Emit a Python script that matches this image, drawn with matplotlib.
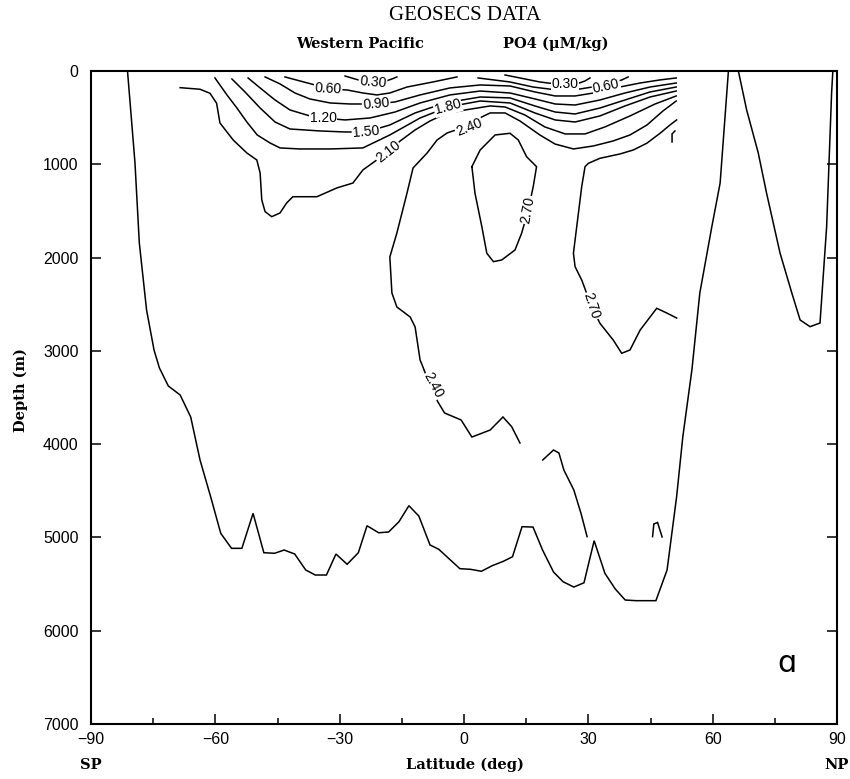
import matplotlib
matplotlib.use("Agg")
import matplotlib.pyplot as plt

# ---------------------------------------------------------------------------
# contour traces read off the GEOSECS PO4 section (lat in deg, depth in m)
# ---------------------------------------------------------------------------
deep_lat = [-81.2, -79.4, -78.35, -76.6, -74.8, -73.5, -71.35, -68.5, -65.95, -63.7,
            -61.1, -58.7, -56.1, -53.6, -50.9, -48.3, -45.7, -43.4, -40.85, -38.2,
            -35.9, -33.2, -30.9, -28.2, -25.5, -23.4, -20.6, -18.2, -15.7, -13.3,
            -10.9, -8.2, -6.1, -3.55, -1.0, 1.6, 4.2, 6.8, 9.5, 11.7,
            14.0, 16.65, 18.95, 21.6, 23.9, 26.5, 28.95, 31.4, 34.0, 36.5,
            38.9, 41.5, 46.3, 49.0, 51.3, 52.8, 55.0, 56.9, 59.8, 61.8, 63.8]
deep_dep = [0, 983, 1844, 2562, 2991, 3184, 3377, 3473, 3709, 4170,
            4570, 4956, 5117, 5117, 4742, 5164, 5170, 5135, 5178, 5349,
            5403, 5403, 5178, 5288, 5164, 4875, 4950, 4942, 4832, 4660,
            4771, 5081, 5127, 5231, 5335, 5342, 5363, 5303, 5256, 5207,
            4885, 4889, 5135, 5371, 5475, 5532, 5486, 5035, 5385, 5553,
            5671, 5678, 5678, 5349, 4564, 3920, 3200, 2380, 1669, 1201, 0]

np_lat = [66.2, 68.2, 71.0, 73.0, 76.25, 79.1, 81.1, 83.5, 85.9, 87.5, 88.7, 89.0]
np_dep = [0, 418, 879, 1308, 1951, 2380, 2669, 2741, 2702, 1669, 236, 0]

c030a_lat = [-28.7, -26.3, -24.6, -22.0, -19.1, -17.4, -16.2]
c030a_dep = [54, 86, 107, 118, 112, 86, 64]
c030b_lat = [9.9, 13.5, 18.3, 21.2, 24.4, 27.5, 29.2, 30.4]
c030b_dep = [43, 75, 118, 134, 139, 134, 107, 75]

c060a_lat = [-43.2, -39.6, -35.95, -32.3, -28.2, -24.4, -21.0, -17.9, -13.75, -7.5, -1.7]
c060a_dep = [64, 107, 150, 193, 204, 236, 257, 236, 172, 118, 64]
c060b_lat = [3.4, 11.1, 16.65, 22.4, 28.0, 34.0, 38.1, 39.6]
c060b_dep = [75, 118, 172, 204, 193, 150, 96, 64]

c090_lat = [-48.0, -44.4, -40.8, -37.2, -32.3, -27.5, -21.2, -16.65, -10.6, -3.4,
            3.9, 11.1, 17.1, 22.0, 26.8, 32.8, 37.6, 42.5, 47.3, 51.2]
c090_dep = [64, 139, 236, 300, 343, 354, 354, 332, 257, 182,
            150, 161, 225, 268, 268, 225, 172, 129, 96, 75]

c120_lat = [-52.1, -49.2, -45.6, -42.0, -37.2, -34.0, -28.7, -22.7, -16.65, -10.6,
            -3.4, 3.9, 11.1, 17.1, 22.0, 26.8, 32.8, 38.85, 44.9, 51.2]
c120_dep = [75, 182, 311, 418, 482, 504, 525, 504, 440, 343,
            257, 215, 236, 300, 354, 365, 311, 236, 172, 129]

c150_lat = [-56.0, -52.85, -49.2, -45.6, -42.0, -34.75, -28.7, -23.65, -17.9, -11.8,
            -4.6, 3.9, 11.1, 17.1, 22.0, 26.8, 32.8, 38.85, 44.9, 51.2]
c150_dep = [86, 225, 397, 547, 622, 643, 654, 654, 579, 450,
            343, 279, 289, 375, 440, 461, 397, 311, 225, 172]

c180_lat = [-60.1, -57.2, -54.8, -52.4, -49.9, -46.8, -44.4, -39.6, -32.3, -24.4,
            -17.9, -10.6, -3.9, 3.9, 11.1, 17.1, 22.0, 26.8, 32.8, 38.85, 44.9, 51.2]
c180_dep = [75, 257, 397, 547, 686, 772, 825, 836, 836, 825,
            686, 504, 386, 322, 343, 450, 525, 547, 482, 375, 279, 215]

c210_lat = [-68.5, -63.7, -61.3, -59.7, -58.9, -55.7, -52.4, -50.0, -49.2, -48.8,
            -48.0, -46.4, -44.4, -42.8, -41.3, -35.5, -30.7, -26.8, -24.4, -21.05,
            -18.3, -15.4, -11.8, -8.2, -4.6, 0.3, 6.3, 9.9, 14.7, 19.5,
            24.4, 29.2, 34.0, 40.05, 46.1, 51.2]
c210_dep = [179, 196, 239, 346, 557, 740, 879, 954, 1093, 1383,
            1508, 1562, 1522, 1415, 1348, 1348, 1254, 1201, 1061, 954,
            868, 750, 632, 536, 461, 418, 375, 386, 472, 600,
            675, 675, 600, 482, 354, 268]

c240_lat = [13.5, 11.5, 9.4, 6.3, 1.9, -0.7, -4.7, -6.3, -7.7, -8.7,
            -10.1, -10.6, -11.8, -13.0, -16.2, -17.4, -17.9, -16.2, -13.75, -12.3,
            -8.9, -6.5, -4.1, 0.2, 4.3, 6.3, 9.9, 13.5, 18.3, 21.95,
            26.4, 31.2, 36.0, 40.05, 44.15, 48.0, 51.2]
c240_dep = [3988, 3813, 3709, 3849, 3924, 3741, 3666, 3548, 3420, 3313,
            3152, 3098, 2744, 2637, 2530, 2380, 1994, 1737, 1308, 1040,
            879, 740, 665, 600, 493, 450, 450, 536, 686, 783,
            836, 804, 750, 686, 579, 429, 322]

c270a_lat = [1.9, 3.9, 7.5, 11.1, 13.1, 15.1, 17.5, 16.7, 15.5, 13.9,
             12.3, 9.1, 7.1, 5.5, 4.3, 2.65, 1.9]
c270a_dep = [1026, 847, 686, 668, 740, 919, 1026, 1240, 1490, 1740,
             1919, 2026, 2044, 1954, 1669, 1311, 1026]

c270b_lat = [51.3, 48.9, 46.5, 42.5, 40.05, 38.05, 36.0, 32.8, 30.8, 28.4,
             26.8, 26.4, 27.2, 28.4, 29.2, 30.0, 32.8, 37.6, 40.85, 44.1,
             47.3, 49.7, 51.3]
c270b_dep = [2648, 2594, 2544, 2777, 2991, 3026, 2884, 2705, 2527, 2241,
             2098, 1954, 1669, 1240, 1026, 990, 936, 890, 847, 775,
             668, 579, 525]

frag1_lat = [19.0, 21.6, 22.9, 24.1, 26.5, 28.2, 29.7]
frag1_dep = [4170, 4063, 4095, 4278, 4492, 4738, 4992]
frag2_lat = [45.5, 45.8, 46.7, 47.8]
frag2_dep = [4992, 4856, 4840, 4995]
frag3_lat = [50.2, 50.2, 50.9]
frag3_dep = [761, 675, 643]

# contour labels: text, lat, depth, rotation
lab_text = ["0.30", "0.60", "0.90", "1.20", "1.50", "1.80", "2.10", "2.40",
            "2.70", "0.30", "0.60", "2.70", "2.40"]
lab_lat = [-22.0, -32.8, -21.2, -34.0, -23.65, -3.9, -18.3, 1.2,
           15.4, 24.4, 34.3, 30.7, -7.4]
lab_dep = [118, 193, 354, 504, 654, 386, 868, 600,
           1490, 139, 161, 2520, 3370]
lab_rot = [-5, -3, 5, 0, 5, 15, 38, 22, 80, 0, 12, -72, -62]

x_major = [-90, -60, -30, 0, 30, 60, 90]
x_minor = [-75, -45, -15, 15, 45, 75]
y_ticks = [0, 1000, 2000, 3000, 4000, 5000, 6000, 7000]

# ---------------------------------------------------------------------------
fig = plt.figure(figsize=(8.5, 7.79), dpi=100)
ax = fig.add_axes([0.1071, 0.0706, 0.8776, 0.8383])

traces = [(deep_lat, deep_dep), (np_lat, np_dep),
          (c030a_lat, c030a_dep), (c030b_lat, c030b_dep),
          (c060a_lat, c060a_dep), (c060b_lat, c060b_dep),
          (c090_lat, c090_dep), (c120_lat, c120_dep), (c150_lat, c150_dep),
          (c180_lat, c180_dep), (c210_lat, c210_dep), (c240_lat, c240_dep),
          (c270a_lat, c270a_dep), (c270b_lat, c270b_dep),
          (frag1_lat, frag1_dep), (frag2_lat, frag2_dep), (frag3_lat, frag3_dep)]
for la, de in traces:
    ax.plot(la, de, color="black", lw=1.1, solid_joinstyle="miter")

for t, la, de, r in zip(lab_text, lab_lat, lab_dep, lab_rot):
    ax.text(la, de, t, rotation=r, ha="center", va="center", fontsize=10,
            family="Liberation Sans", rotation_mode="anchor",
            bbox=dict(facecolor="white", edgecolor="none", pad=0.6))

ax.set_xlim(-90, 90)
ax.set_ylim(7000, 0)
ax.set_xticks(x_major)
ax.set_xticks(x_minor, minor=True)
ax.set_yticks(y_ticks)
ax.set_xticklabels([str(v).replace("-", "\u2212") for v in x_major])
ax.set_yticklabels([str(v) for v in y_ticks])
ax.tick_params(axis="x", which="major", direction="in", length=7, width=1.1, pad=6,
               labelsize=11.5, bottom=True, top=False)
ax.tick_params(axis="x", which="minor", direction="in", length=4, width=1.1,
               bottom=True, top=False)
ax.tick_params(axis="y", direction="in", length=7, width=1.1, pad=9,
               labelsize=11.5, left=True, right=True)
for lbl in ax.get_xticklabels() + ax.get_yticklabels():
    lbl.set_family("Liberation Sans")
for s in ax.spines.values():
    s.set_linewidth(1.5)

serif_b = dict(family="DejaVu Serif", fontweight="bold", fontsize=10.5)
fig.text(465 / 850, 1 - 15 / 779, "GEOSECS DATA", ha="center", va="center",
         family="Liberation Serif", fontsize=15)
fig.text(360 / 850, 1 - 43.5 / 779, "Western Pacific", ha="center", va="center", **serif_b)
fig.text(556 / 850, 1 - 43.5 / 779, "PO4 (\u03bcM/kg)", ha="center", va="center", **serif_b)
fig.text(465 / 850, 1 - 765 / 779, "Latitude (deg)", ha="center", va="center", **serif_b)
fig.text(91 / 850, 1 - 765 / 779, "SP", ha="center", va="center", **serif_b)
fig.text(837 / 850, 1 - 765 / 779, "NP", ha="center", va="center", **serif_b)
fig.text(21 / 850, 1 - 390 / 779, "Depth (m)", ha="center", va="center",
         rotation=90, **serif_b)
ax.text(78, 6350, "\u0251", ha="center", va="center", fontsize=22, family="DejaVu Sans")

fig.savefig("out.png", dpi=100)
